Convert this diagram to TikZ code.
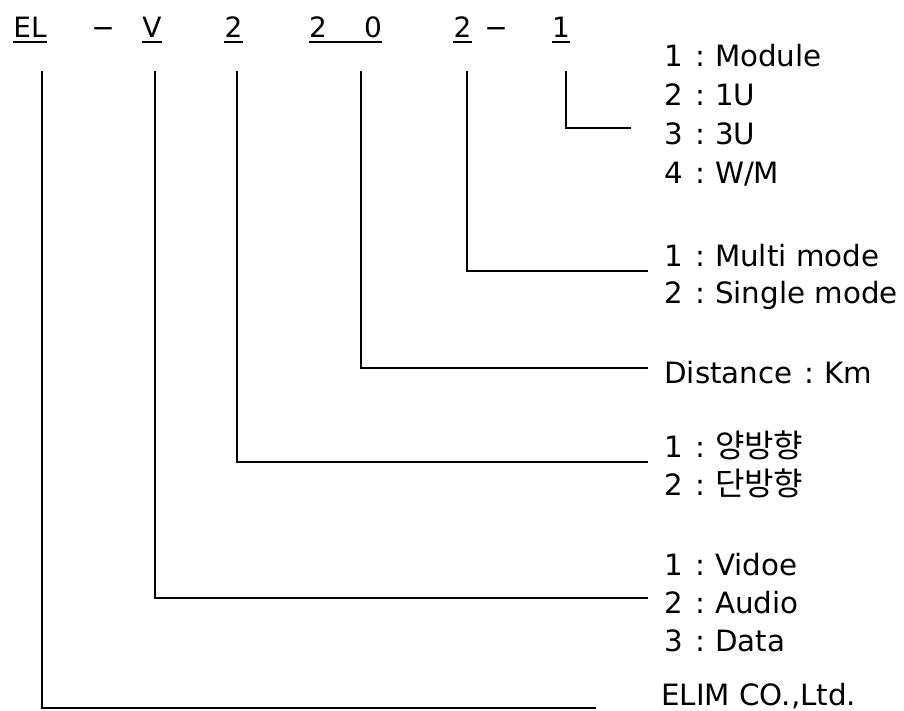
\documentclass[tikz,border=0pt]{standalone}
\usepackage{fontspec}
\setmainfont{DejaVu Sans}
\newfontfamily\kofont{Noto Sans CJK KR}
\usetikzlibrary{positioning}

\newcommand{\colsep}{\hspace{0.42em}:\hspace{0.34em}}

\tikzset{
    code/.style={anchor=base, inner sep=0pt, font=\fontsize{21}{24}\selectfont},
    lbl/.style={anchor=base west, inner sep=0pt, font=\fontsize{22}{24}\selectfont},
    uline/.style={line width=1.3pt},
    link/.style={line width=1.4pt, line cap=rect},
}

\begin{document}
\begin{tikzpicture}[x=0.75pt, y=-0.75pt]
    \useasboundingbox (0,0) rectangle (904,711);

    % Code letters across the top
    \node[code] (el)    at (30,37)    {EL};
    \node[code] (dashA) at (103,37)   {−};
    \node[code] (v)     at (152,37)   {V};
    \node[code] (dir)   at (233.5,37) {2};
    \node[code] (dist)  at (345.5,37) {2\hspace{28pt}0};
    \node[code] (mode)  at (462.5,37) {2};
    \node[code] (dashB) at (496,37)   {−};
    \node[code] (unit)  at (561,37)   {1};

    % Underlines
    \foreach \n in {el, v, dir, dist, mode, unit} {
        \draw[uline] ([yshift=-3.75pt]\n.base west) -- ([yshift=-3.75pt]\n.base east);
    }

    % Unit options
    \node[lbl] (unitA) at (664,66)  {1\colsep Module};
    \node[lbl] (unitB) at (664,105) {2\colsep 1U};
    \node[lbl] (unitC) at (664,144) {3\colsep 3U};
    \node[lbl] (unitD) at (664,183) {4\colsep W/M};

    % Mode options
    \node[lbl] (modeA) at (664,266) {1\colsep Multi mode};
    \node[lbl] (modeB) at (664,303) {2\colsep Single mode};

    % Distance
    \node[lbl] (distA) at (664,383) {Distance\colsep Km};

    % Direction options
    \node[lbl] (dirA) at (664,457) {1\colsep{\kofont\fontsize{24}{24}\selectfont 양방향}};
    \node[lbl] (dirB) at (664,495) {2\colsep{\kofont\fontsize{24}{24}\selectfont 단방향}};

    % Signal options
    \node[lbl] (sigA) at (664,575) {1\colsep Vidoe};
    \node[lbl] (sigB) at (664,613) {2\colsep Audio};
    \node[lbl] (sigC) at (664,651) {3\colsep Data};

    % Maker
    \node[lbl] (maker) at (661,705) {ELIM CO.,Ltd.};

    % Leader lines
    \coordinate (unitT) at (566,72);  \coordinate (unitE) at (630,128);
    \coordinate (modeT) at (467,72);  \coordinate (modeE) at (647,271);
    \coordinate (distT) at (361,72);  \coordinate (distE) at (647,368);
    \coordinate (dirT)  at (237,72);  \coordinate (dirE)  at (647,462);
    \coordinate (vT)    at (155,72);  \coordinate (vE)    at (647,598);
    \coordinate (elT)   at (42,72);   \coordinate (elE)   at (595,708);

    \foreach \a/\b in {unitT/unitE, modeT/modeE, distT/distE, dirT/dirE, vT/vE, elT/elE} {
        \draw[link] (\a) |- (\b);
    }
\end{tikzpicture}
\end{document}
